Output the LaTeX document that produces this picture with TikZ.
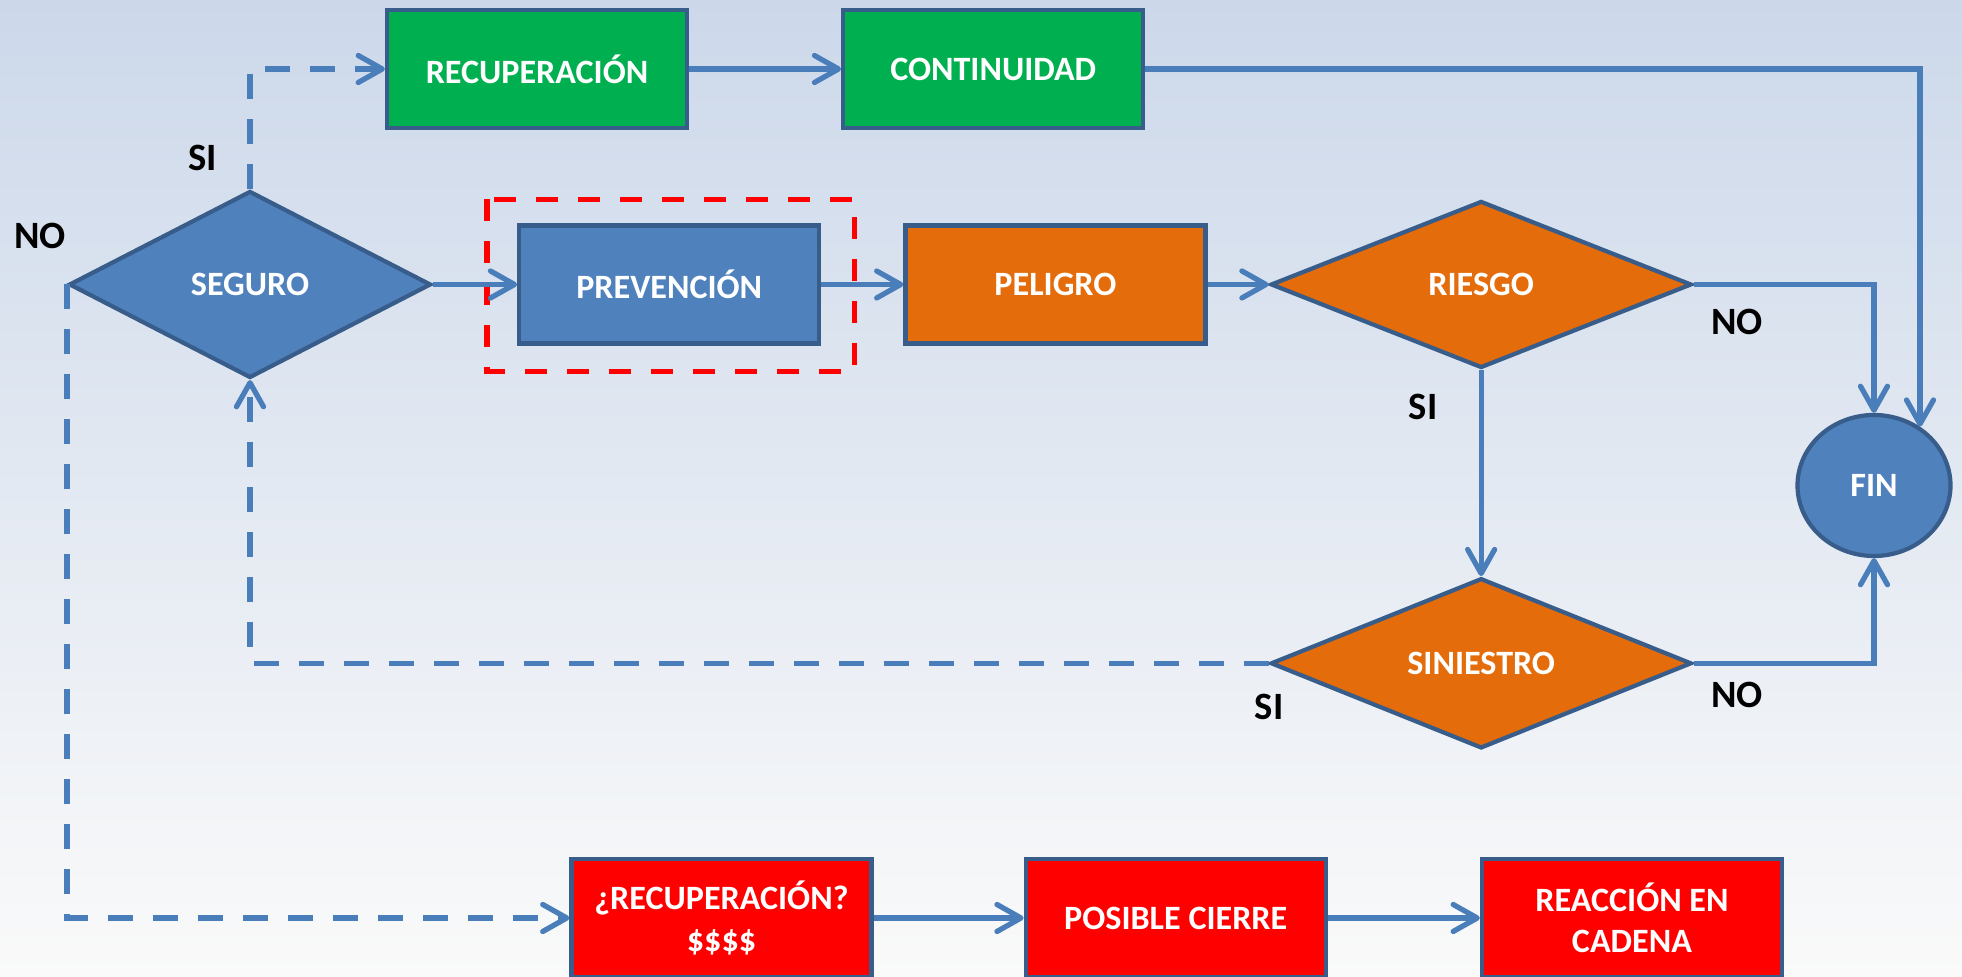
\documentclass[tikz,border=0pt]{standalone}
\usepackage{fontspec}
\setmainfont{Carlito}
\usepackage{xcolor}
\usepackage{tikz}
\usetikzlibrary{calc,arrows.meta,positioning,shapes.geometric}

\definecolor{azul}{HTML}{4F81BD}
\definecolor{borde}{HTML}{385D8A}
\definecolor{linea}{HTML}{4A7EBB}
\definecolor{verde}{HTML}{00B050}
\definecolor{naranja}{HTML}{E46C0A}
\definecolor{rojo}{HTML}{FF0000}
\definecolor{fondoA}{HTML}{CCD8EA}
\definecolor{fondoM}{HTML}{EDF0F5}
\definecolor{fondoB}{HTML}{FAFAFA}

\begin{document}
\begin{tikzpicture}[
	font=\fontsize{9.7}{11.8}\selectfont\bfseries,
	caja/.style={rectangle, draw=borde, line width=1.2pt, text=white, minimum width=3.0cm, minimum height=1.18cm, align=center, inner sep=1pt},
	rombo/.style={diamond, draw=borde, line width=1.2pt, text=white, inner sep=0pt},
	flecha/.style={draw=linea, line width=1.5pt, -{Straight Barb[length=2.4mm,width=2.7mm,round]}},
	punteada/.style={dash pattern=on 2.5mm off 2mm},
	etiq/.style={font=\fontsize{11}{13}\selectfont\bfseries, text=black}
]
\useasboundingbox (0,0) rectangle (19.62,-9.77);
\clip (0,0) rectangle (19.62,-9.77);
\shade[top color=fondoA, middle color=fondoM, bottom color=fondoB] (0,0) rectangle (19.62,-9.77);

% fila principal
\node[rombo, fill=azul, minimum width=3.62cm, minimum height=1.87cm] (seguro) at (2.50,-2.845) {SEGURO};
\node[caja, fill=azul, right=0.84 of seguro] (prev) {PREVENCIÓN};
\node[caja, fill=naranja, right=0.82 of prev] (peligro) {PELIGRO};
\node[rombo, fill=naranja, minimum width=4.21cm, minimum height=1.67cm, right=0.61 of peligro] (riesgo) {RIESGO};
\node[rombo, fill=naranja, minimum width=4.21cm, minimum height=1.67cm, below=2.06 of riesgo] (siniestro) {SINIESTRO};
\node[ellipse, draw=borde, line width=1.2pt, fill=azul, text=white, minimum width=1.53cm, minimum height=1.41cm] (fin) at (18.74,-4.855) {FIN};

% fila de arriba
\node[caja, fill=verde] (recup) at (5.37,-0.69) {RECUPERACIÓN};
\node[caja, fill=verde, right=1.52 of recup] (cont) {CONTINUIDAD};

% fila de abajo
\node[caja, fill=rojo] (recup2) at (7.215,-9.18) {¿RECUPERACIÓN?\\\$\$\$\$};
\node[caja, fill=rojo, right=1.50 of recup2] (cierre) {POSIBLE CIERRE};
\node[caja, fill=rojo, right=1.52 of cierre] (cadena) {REACCIÓN EN\\CADENA};

\draw[rojo, line width=1.5pt, dash pattern=on 2.2mm off 2mm] ($(prev.north west)+(-0.30,0.24)$) rectangle ($(prev.south east)+(0.33,-0.26)$);

\draw[flecha, punteada] (seguro.north) |- (recup.west);
\draw[flecha] (recup) -- (cont);
\draw[flecha] (cont.east) -| (fin.52);
\draw[flecha] (seguro) -- (prev);
\draw[flecha] (prev) -- (peligro);
\draw[flecha] (peligro) -- (riesgo);
\draw[flecha] (riesgo.east) -| (fin.north);
\draw[flecha] (riesgo.south) -- (siniestro.north);
\draw[flecha] (siniestro.east) -| (fin.south);
\draw[flecha, punteada] (siniestro.west) -| (seguro.south);
\draw[flecha, punteada] (seguro.west) |- (recup2.west);
\draw[flecha] (recup2) -- (cierre);
\draw[flecha] (cierre) -- (cadena);

% etiquetas
\node[etiq] (si1) at (2.03,-1.58) {SI};
\node[etiq] (no1) at (0.40,-2.36) {NO};
\node[etiq] (no2) at (17.37,-3.22) {NO};
\node[etiq] (si2) at (14.23,-4.07) {SI};
\node[etiq] (si3) at (12.69,-7.07) {SI};
\node[etiq] (no3) at (17.37,-6.95) {NO};
\end{tikzpicture}
\end{document}
